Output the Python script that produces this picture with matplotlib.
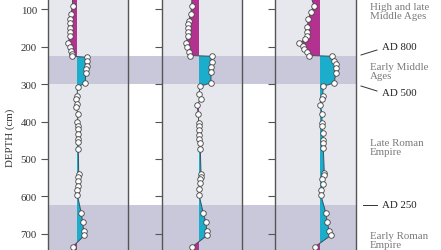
import matplotlib.pyplot as plt
from matplotlib.lines import Line2D
import numpy as np

plt.rcParams['font.family'] = ['Liberation Serif', 'DejaVu Serif']

# depth (cm) and deviation values read per panel (negative = magenta, positive = cyan)
depth_1 = [60, 93, 113, 127, 137, 151, 162, 173, 191, 200, 211, 220, 226, 229, 238, 251, 260, 271, 298,
           307, 331, 340, 353, 362, 380, 402, 411, 420, 433, 447, 456, 473, 540, 549, 559, 571, 583, 595,
           645, 669, 693, 704, 734, 755]
value_1 = [-4.7, -4.3, -6.3, -7, -7.3, -7, -7, -7.3, -8.7, -7.3, -6.3, -5.3, -4.7, 10.3, 9.7, 9.7, 9, 8.7, 8.3,
           0.7, 0, -1, 0, -1.3, 1.3, 0.3, 0.7, 0.7, 0.7, 1, 1, 1.3, 1.7, 1.3, 0.7, 0.7, 0.3, 0.3,
           4.3, 5.7, 6.7, 7.3, -4.3, -2]

depth_2 = [60, 93, 113, 131, 140, 151, 162, 173, 191, 202, 214, 224, 226, 242, 255, 267, 297, 306, 327, 340,
           356, 380, 404, 411, 423, 435, 447, 458, 473, 540, 547, 553, 565, 580, 595, 645, 669, 693, 704,
           734, 755]
value_2 = [-7, -7.3, -8.3, -10, -10.7, -10.7, -10.7, -11.3, -13, -11.7, -10, -9, 12.7, 12.7, 12, 12, 12, 1, 0, 1.7,
           -2, -0.7, -0.3, -0.3, 0, 0, 0.3, 1, 1.3, 2, 2, 1, 0.7, 0.3, 0, 4.3, 7, 7.7, 8,
           -6.7, -3]

depth_3 = [60, 91, 109, 127, 149, 160, 171, 180, 191, 198, 207, 215, 224, 226, 238, 247, 258, 271, 297, 306,
           331, 340, 356, 380, 404, 411, 431, 449, 458, 471, 538, 544, 553, 566, 583, 595, 645, 669, 693,
           704, 734, 755]
value_3 = [-10, -6, -9.3, -11.7, -12.7, -12.7, -13.3, -15, -20.7, -17.3, -15.7, -13.3, -10.7, 11.7, 14.3, 15.7, 16,
           15.7, 14.3, 3.3, 2.7, 2.3, 0, 2.3, 1.7, 1.7, 2.7, 3.3, 3.3, 3.3, 4.3, 4, 1.7, 2.7, 1, 0.7,
           6, 7.3, 9.3, 10.7, -5, -2]

bands = [(225, 300), (622, 800)]
depth_ticks = [100, 200, 300, 400, 500, 600, 700]

periods = [('High and late\nMiddle Ages', 12), ('Early Middle\nAges', 72),
           ('Late Roman\nEmpire', 148), ('Early Roman\nEmpire', 241)]
boundaries = [('AD 800', 48, 'slant_up'), ('AD 500', 94, 'slant_down'), ('AD 250', 206, 'flat')]

W, H = 441, 251
Y_TOP, Y_BOT = 73.3, 742.7
MAGENTA = '#b3318f'
CYAN = '#1badcb'
LIGHT = '#e7e7ee'
BAND = '#c9c8da'
SPINE = '#555555'

fig = plt.figure(figsize=(W / 100, H / 100), dpi=100)

# panel extents in pixels: left, right, baseline
panels = [(48, 128, 77, depth_1, value_1),
          (162, 242, 199, depth_2, value_2),
          (275, 356, 320, depth_3, value_3)]

# bands across the whole panel group
bg = fig.add_axes([48 / W, 0, (356 - 48) / W, 1], zorder=-1)
bg.set_ylim(Y_BOT, Y_TOP)
bg.set_xlim(0, 1)
for b0, b1 in bands:
    bg.axhspan(b0, b1, color=BAND, lw=0)
bg.axis('off')

for i, (left, right, base, d, v) in enumerate(panels):
    ax = fig.add_axes([left / W, 0, (right - left) / W, 1])
    ax.set_facecolor(LIGHT)
    d = np.array(d, dtype=float)
    v = np.array(v, dtype=float)
    for b0, b1 in bands:
        ax.axhspan(b0, b1, color=BAND, lw=0, zorder=0.5)
    ax.fill_betweenx(d, 0, v, where=v < 0, color=MAGENTA, lw=0, interpolate=True, zorder=1)
    ax.fill_betweenx(d, 0, v, where=v > 0, color=CYAN, lw=0, interpolate=True, zorder=1)
    ax.plot(v, d, '-', color='#3d4f5c', lw=0.7, zorder=2)
    ax.plot(v[1:-1], d[1:-1], 'o', ms=4.0, mfc='white', mec='#444444', mew=0.6, zorder=3)
    ax.set_xlim(left - base, right - base)
    ax.set_ylim(Y_BOT, Y_TOP)
    ax.set_xticks([])
    ax.set_yticks(depth_ticks)
    ax.tick_params(axis='y', direction='out', length=5, width=0.8, color=SPINE,
                   labelsize=7.8, labelcolor='#333333', pad=3)
    if i > 0:
        ax.set_yticklabels([])
    for side in ['top', 'bottom']:
        ax.spines[side].set_visible(False)
    for side in ['left', 'right']:
        ax.spines[side].set_color(SPINE)
        ax.spines[side].set_linewidth(1.0)

fig.text(10 / W, 1 - 138 / H, 'DEPTH (cm)', rotation=90, ha='center', va='center',
         fontsize=7.8, color='#333333')

for label, y in periods:
    fig.text(370 / W, 1 - y / H, label, ha='left', va='center', fontsize=7.8,
             color='#7a7a7a', linespacing=1.0)

for label, y, kind in boundaries:
    fig.text(382 / W, 1 - y / H, label, ha='left', va='center', fontsize=7.8, color='#222222')
    if kind == 'slant_up':
        xs, ys = [361, 377], [56, 51]
    elif kind == 'slant_down':
        xs, ys = [361, 377], [87, 92]
    else:
        xs, ys = [363, 377], [206, 206]
    fig.add_artist(Line2D([x / W for x in xs], [1 - y / H for y in ys], color='#333333', lw=0.7))

fig.savefig('out.png', dpi=100)
